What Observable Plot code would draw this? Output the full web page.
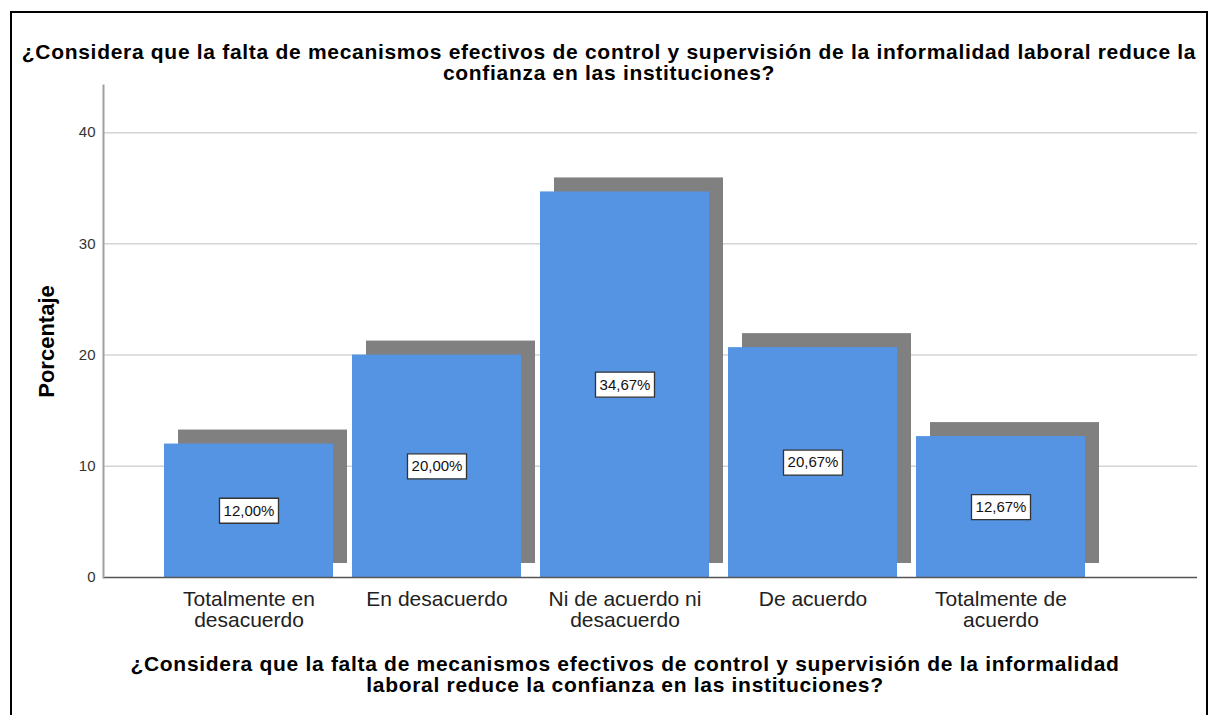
<!DOCTYPE html>
<html>
<head>
<meta charset="utf-8">
<script src="https://cdn.jsdelivr.net/npm/d3@7"></script>
<script src="https://cdn.jsdelivr.net/npm/@observablehq/plot@0.6"></script>
<style>
  html, body { margin: 0; padding: 0; background: #fff; width: 1210px; height: 715px; overflow: hidden; }
  body { position: relative; font-family: "Liberation Sans", Arial, sans-serif; }
  #border { position: absolute; left: 10px; top: 11px; width: 1198px; height: 760px; border: 2px solid #000; box-sizing: border-box; pointer-events: none; }
  #title { position: absolute; left: 10px; top: 41px; width: 1198px; text-align: center; font-weight: bold; font-size: 21px; letter-spacing: 0.7px; line-height: 21px; color: #000; }
  #chart { position: absolute; left: 0; top: 84px; }
  #xtitle { position: absolute; left: 0; top: 653px; width: 1250px; text-align: center; font-weight: bold; font-size: 21px; letter-spacing: 0.7px; line-height: 21px; color: #000; }
</style>
</head>
<body>
<div id="title"></div>
<div id="chart"></div>
<div id="xtitle"></div>
<div id="border"></div>
<script>
// ---- data ----
const categories = ["Totalmente en desacuerdo", "En desacuerdo", "Ni de acuerdo ni desacuerdo", "De acuerdo", "Totalmente de acuerdo"];
const tickLabels = ["Totalmente en\ndesacuerdo", "En desacuerdo", "Ni de acuerdo ni\ndesacuerdo", "De acuerdo", "Totalmente de\nacuerdo"];
const percentages = [12.00, 20.00, 34.67, 20.67, 12.67];
const yTicks = [0, 10, 20, 30, 40];
const titleLines = ["¿Considera que la falta de mecanismos efectivos de control y supervisión de la informalidad laboral reduce la", "confianza en las instituciones?"];
const xTitleLines = ["¿Considera que la falta de mecanismos efectivos de control y supervisión de la informalidad", "laboral reduce la confianza en las instituciones?"];
const yLabel = "Porcentaje";

const data = categories.map((c, i) => ({
  category: c,
  value: percentages[i],
  label: percentages[i].toFixed(2).replace(".", ",") + "%"
}));

document.getElementById("title").innerHTML = titleLines.join("<br>");
document.getElementById("xtitle").innerHTML = xTitleLines.join("<br>");

const labelBox = {
  draw(context) { context.rect(-29.5, -12.5, 59, 25); }
};

const chart = Plot.plot({
  width: 1210,
  height: 566,
  marginTop: 1,
  marginBottom: 73,
  marginLeft: 103,
  marginRight: 13,
  style: { fontFamily: "'Liberation Sans', Arial, sans-serif", background: "transparent", overflow: "visible" },
  x: { domain: categories, paddingInner: 0.101, paddingOuter: 0.46, align: 0.353, label: null },
  y: { domain: [0, 44.24], label: null },
  marks: [
    Plot.gridY(yTicks.slice(1), { stroke: "#d4d4d4", strokeOpacity: 1, strokeWidth: 1.5 }),
    Plot.barY(data, { x: "category", y: "value", fill: "#808080", dx: 14, dy: -14 }),
    Plot.barY(data, { x: "category", y: "value", fill: "#5494e3" }),
    Plot.ruleY([0], { stroke: "#555", strokeWidth: 1.5 }),
    Plot.frame({ anchor: "left", stroke: "#a0a0a0", strokeWidth: 2 }),
    Plot.axisY({ ticks: yTicks, tickSize: 0, tickPadding: 8, fontSize: 15, color: "#333", label: null }),
    Plot.axisX({ tickSize: 0, tickPadding: 14, fontSize: 21, lineHeight: 1, color: "#222", label: null,
      tickFormat: d => tickLabels[categories.indexOf(d)] }),
    Plot.text([yLabel], { text: d => d, frameAnchor: "left", textAnchor: "middle", lineAnchor: "middle", rotate: -90, dx: -57, dy: 10, fontSize: 22, fontWeight: "bold", fill: "#000" }),
    Plot.dot(data, { x: "category", y: d => d.value / 2, symbol: labelBox, fill: "white", stroke: "#333", strokeWidth: 1.3 }),
    Plot.text(data, { x: "category", y: d => d.value / 2, text: "label", fontSize: 15, fill: "#111" })
  ]
});
document.getElementById("chart").appendChild(chart);
</script>
</body>
</html>
